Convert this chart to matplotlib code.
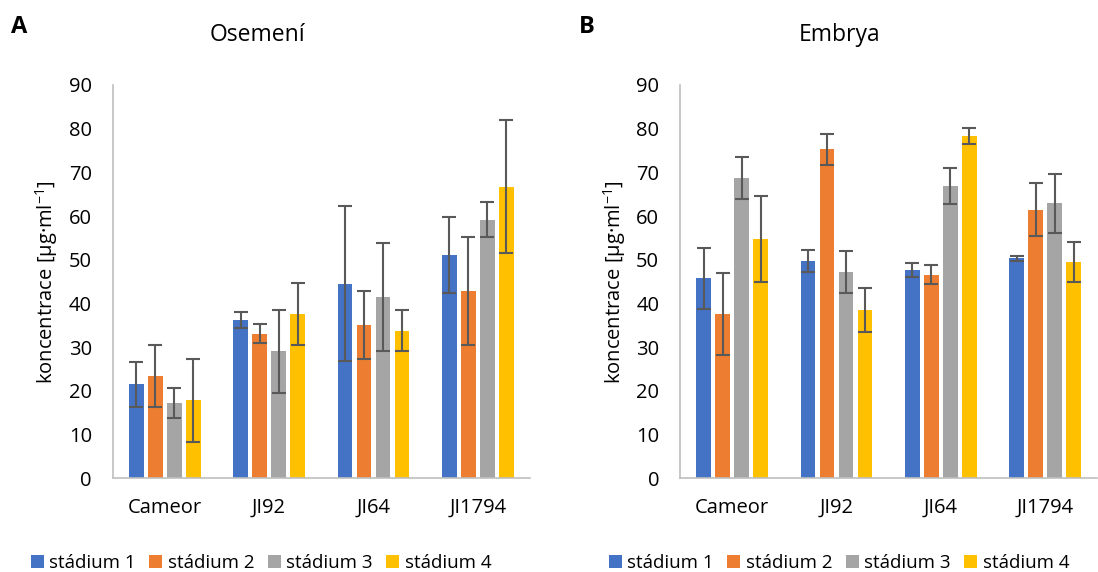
import matplotlib
matplotlib.use("Agg")
import matplotlib.pyplot as plt
import numpy as np
from matplotlib.patches import Patch

plt.rcParams['font.family'] = ['Open Sans', 'DejaVu Sans']
plt.rcParams['mathtext.fontset'] = 'custom'
plt.rcParams['mathtext.rm'] = 'Open Sans'

categories = ["Cameor", "JI92", "JI64", "JI1794"]
series = ["stádium 1", "stádium 2", "stádium 3", "stádium 4"]
colors = ["#4472C4", "#ED7D31", "#A5A5A5", "#FFC000"]

# Panel A: Osemení
osemeni_vals = [
    [21.5, 36.2, 44.5, 51.1],
    [23.5, 33.1, 35.1, 42.8],
    [17.2, 29.1, 41.5, 59.2],
    [17.9, 37.6, 33.8, 66.7],
]
osemeni_err = [
    [5.1, 1.8, 17.7, 8.8],
    [7.1, 2.1, 7.8, 12.4],
    [3.4, 9.5, 12.3, 4.0],
    [9.5, 7.1, 4.6, 15.2],
]

# Panel B: Embrya
embrya_vals = [
    [45.8, 49.7, 47.6, 50.3],
    [37.6, 75.3, 46.6, 61.5],
    [68.7, 47.2, 66.8, 62.9],
    [54.7, 38.5, 78.3, 49.5],
]
embrya_err = [
    [7.0, 2.6, 1.6, 0.6],
    [9.3, 3.5, 2.1, 6.1],
    [4.8, 4.9, 4.1, 6.7],
    [9.8, 5.0, 1.8, 4.5],
]

yticks = [0, 10, 20, 30, 40, 50, 60, 70, 80, 90]

fig = plt.figure(figsize=(10.98, 5.72), dpi=100)
axA = fig.add_axes([0.1026, 0.1638, 0.380, 0.6876])
axB = fig.add_axes([0.6193, 0.1638, 0.380, 0.6876])

pitch = 0.182
width = 0.142
x = np.arange(len(categories))

def draw(ax, vals, errs):
    for i, (v, e) in enumerate(zip(vals, errs)):
        ax.bar(x + (i - 1.5) * pitch, v, width, color=colors[i], label=series[i],
               yerr=e, error_kw=dict(ecolor="#595959", elinewidth=1.5, capsize=4.8, capthick=1.5),
               zorder=2)
    ax.set_xlim(-0.5, len(categories) - 0.5)
    ax.set_ylim(0, 90)
    ax.set_yticks(yticks)
    ax.set_xticks(x)
    ax.set_xticklabels(categories)
    for s in ["top", "right"]:
        ax.spines[s].set_visible(False)
    for s in ["left", "bottom"]:
        ax.spines[s].set_color("#BFBFBF")
        ax.spines[s].set_linewidth(1.2)
    ax.tick_params(axis="both", length=0, labelsize=14.5, colors="#000000")
    ax.tick_params(axis="y", pad=15)
    ax.tick_params(axis="x", pad=14)
    ax.set_ylabel(r"koncentrace [µg·ml$^{-1}$]", fontsize=14.5, labelpad=6)

draw(axA, osemeni_vals, osemeni_err)
draw(axB, embrya_vals, embrya_err)

fig.text(257 / 1098, 1 - 35 / 572, "Osemení", fontsize=16.5, ha="center", va="center")
fig.text(840 / 1098, 1 - 35 / 572, "Embrya", fontsize=16.5, ha="center", va="center")
fig.text(11 / 1098, 1 - 27 / 572, "A", fontsize=17, fontweight="bold", ha="left", va="center")
fig.text(579 / 1098, 1 - 27 / 572, "B", fontsize=17, fontweight="bold", ha="left", va="center")

handles = [Patch(facecolor=c, label=s) for c, s in zip(colors, series)]
for cx in (261, 839):
    fig.legend(handles=handles, loc="center", bbox_to_anchor=(cx / 1098, 1 - 563 / 572),
               ncol=4, frameon=False, fontsize=13.5, handlelength=0.7, handleheight=0.7,
               handletextpad=0.3, columnspacing=0.7)

fig.savefig("out.png", dpi=100)
